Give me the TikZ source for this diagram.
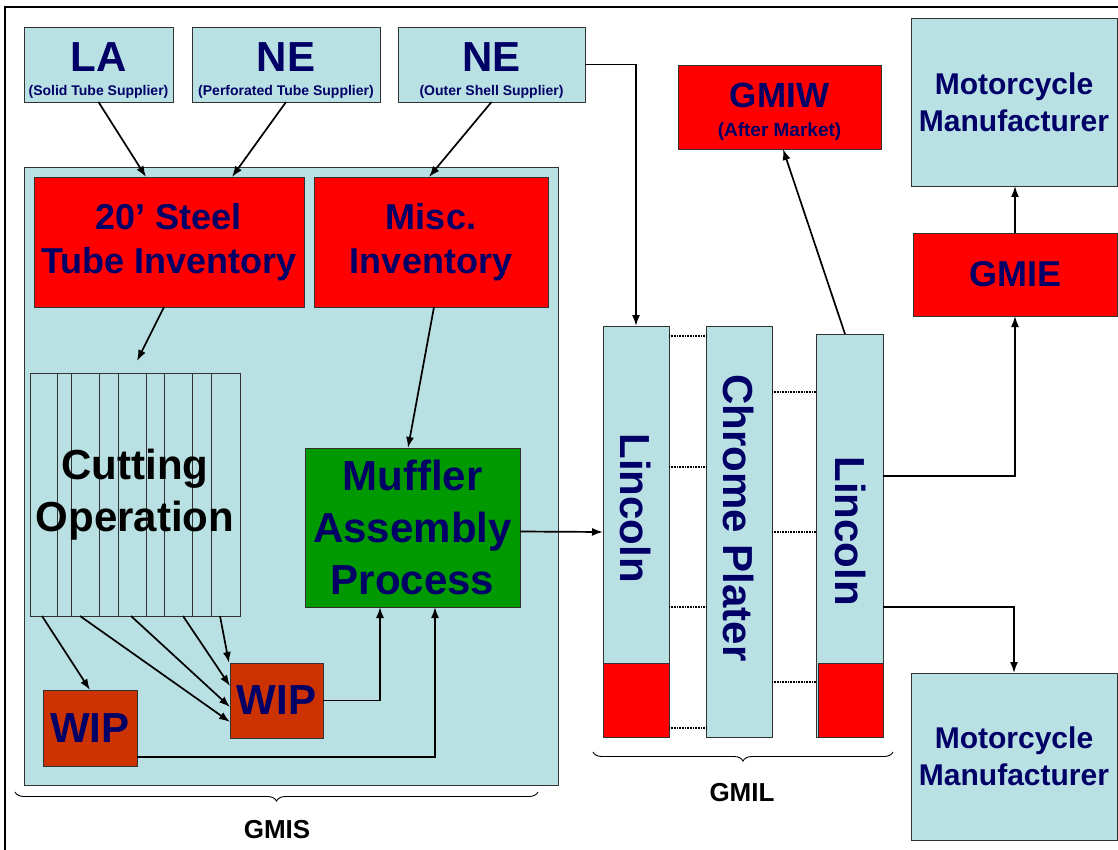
\documentclass[tikz,border=0pt]{standalone}
\usepackage{fontspec}
\setmainfont{Liberation Sans}
\usetikzlibrary{arrows.meta,decorations.pathreplacing,calc}
\definecolor{lb}{RGB}{185,224,227}
\definecolor{rd}{RGB}{255,0,0}
\definecolor{gr}{RGB}{0,153,0}
\definecolor{wipc}{RGB}{204,51,0}
\definecolor{navy}{RGB}{0,0,102}
\definecolor{edge}{RGB}{50,50,50}
\begin{document}
\begin{tikzpicture}[x=1pt,y=-1pt,
  box/.style={draw=edge, line width=0.9pt, inner sep=0pt, outer sep=0pt, anchor=north west, align=center, text=navy},
  txt/.style={inner sep=0pt, outer sep=0pt, align=center, text=navy},
  arr/.style={-{Latex[length=11pt,width=8pt]}, line width=1.7pt},
  link/.style={line width=1.6pt, dash pattern=on 1pt off 0.6pt},
  brc/.style={decorate, decoration={brace, mirror, amplitude=9pt}, line width=0.9pt},
  big/.style={font=\bfseries\fontsize{42}{52}\selectfont},
  mid/.style={font=\bfseries\fontsize{36}{44}\selectfont},
  sub/.style={font=\bfseries\fontsize{14}{14}\selectfont}]
\useasboundingbox[fill=white] (0,0) rectangle (1118,850);
\draw[line width=2.5pt] (4,7) -- (1118,7);
\draw[line width=2.5pt] (5,7) -- (5,850);

% suppliers
\node[box, fill=lb, minimum width=149pt, minimum height=75pt] (la) at (24,27) {};
\node[box, fill=lb, minimum width=188pt, minimum height=75pt] (ne2) at (192,27) {};
\node[box, fill=lb, minimum width=187pt, minimum height=75pt] (ne3) at (398,27) {};
\node[txt, big, anchor=base] (laT) at (98.5,72) {LA};
\node[txt, sub, anchor=base] (laS) at (98.5,96) {(Solid Tube Supplier)};
\node[txt, big, anchor=base] (ne2T) at (286,72) {NE};
\node[txt, sub, anchor=base] (ne2S) at (286,96) {(Perforated Tube Supplier)};
\node[txt, big, anchor=base] (ne3T) at (491.5,72) {NE};
\node[txt, sub, anchor=base] (ne3S) at (491.5,96) {(Outer Shell Supplier)};

% GMIS panel
\node[box, fill=lb, minimum width=534pt, minimum height=618pt] (gmis) at (24,167) {};
\node[box, fill=rd, mid, minimum width=270pt, minimum height=130pt] (steel) at (34,177) {20’ Steel\\Tube Inventory};
\node[box, fill=rd, mid, minimum width=234pt, minimum height=130pt] (misc) at (314,177) {Misc.\\Inventory};
\node[box, fill=lb, minimum width=210pt, minimum height=243pt] (cut) at (30,373) {};
\foreach \dx in {27.7,41.7,69.3,88,116,134.7,162.7,181.3}
  \draw[draw=edge, line width=0.9pt] ($(cut.north west)+(\dx,0)$) -- ($(cut.south west)+(\dx,0)$);
\node[txt, big, text=black] (cutT) at (cut.center) {Cutting\\Operation};
\node[box, fill=gr, big, minimum width=215pt, minimum height=159pt] (muf) at (305,448) {Muffler\\Assembly\\Process};
\node[box, fill=wipc, big, minimum width=94pt, minimum height=76pt] (wip1) at (43,690) {WIP};
\node[box, fill=wipc, big, minimum width=93pt, minimum height=75pt] (wip2) at (230,663) {WIP};

% GMIL columns
\node[box, fill=lb, minimum width=66pt, minimum height=411pt] (l1) at (603,326) {};
\node[box, fill=rd, minimum width=66pt, minimum height=74pt] (l1r) at (603,663) {};
\node[box, fill=lb, minimum width=66pt, minimum height=411pt] (cp) at (706,326) {};
\node[box, fill=lb, minimum width=67pt, minimum height=403pt] (l2) at (816,334) {};
\node[box, fill=rd, minimum width=65pt, minimum height=74pt] (l2r) at (818,663) {};
\node[txt, big, rotate=-90] (l1T) at (636,508) {Lincoln};
\node[txt, big, rotate=-90] (cpT) at (739,518) {Chrome Plater};
\node[txt, big, rotate=-90] (l2T) at (850,531) {Lincoln};
\foreach \yy in {10,141,281,402}
  \draw[link] ($(l1.north east)+(0,\yy)$) -- ($(cp.north west)+(0,\yy)$);
\foreach \yy in {66,206,356}
  \draw[link] ($(cp.north east)+(0,\yy)$) -- ($(l2.north west)+(0,\yy-8)$);

% right side
\node[box, fill=rd, minimum width=203pt, minimum height=84pt] (gmiw) at (678,65) {};
\node[txt, font=\bfseries\fontsize{35}{35}\selectfont, anchor=base] (gmiwT) at (779.5,108) {GMIW};
\node[txt, font=\bfseries\fontsize{19}{19}\selectfont, anchor=base] (gmiwS) at (779.5,137) {(After Market)};
\node[box, fill=lb, font=\bfseries\fontsize{30}{37}\selectfont, minimum width=206pt, minimum height=168pt] (moto1) at (911,18) {Motorcycle\\Manufacturer};
\node[box, fill=rd, mid, minimum width=204pt, minimum height=83pt] (gmie) at (913,233) {GMIE};
\node[box, fill=lb, font=\bfseries\fontsize{30}{37}\selectfont, minimum width=206pt, minimum height=167pt] (moto2) at (911,673) {Motorcycle\\Manufacturer};

% braces
\coordinate (bsl) at (15,792);
\coordinate (bsr) at (538,792);
\draw[brc] (bsl) -- (bsr);
\node[txt, text=black, font=\bfseries\fontsize{26}{26}\selectfont] (gmisT) at (277,830) {GMIS};
\coordinate (bll) at (593,752);
\coordinate (blr) at (893,752);
\draw[brc] (bll) -- (blr);
\node[txt, text=black, font=\bfseries\fontsize{26}{26}\selectfont] (gmilT) at (742,793) {GMIL};

% connectors
\draw[arr] (la.south) -- ($(steel.north west)+(112,0)$);
\draw[arr] (ne2.south) -- ($(steel.north west)+(198,0)$);
\draw[arr] (ne3.south) -- ($(misc.north west)+(115,0)$);
\draw[arr] ($(steel.south west)+(130,0)$) -- ($(cut.north west)+(107,-12)$);
\draw[arr] ($(misc.south west)+(120,0)$) -- ($(muf.north west)+(103,0)$);
\draw[arr] ($(cut.south west)+(12,0)$) -- ($(wip1.north west)+(47,0)$);
\draw[arr] ($(cut.south west)+(50,0)$) -- ($(wip2.north west)+(0,59)$);
\draw[arr] ($(cut.south west)+(101,0)$) -- ($(wip2.north west)+(0,44)$);
\draw[arr] ($(cut.south west)+(153,0)$) -- ($(wip2.north west)+(0,23)$);
\draw[arr] ($(cut.south west)+(190,0)$) -- ($(wip2.north west)+(-1,0)$);
\draw[arr] (wip2.east) -| ($(muf.south west)+(75,0)$);
\draw[arr] ($(wip1.south east)+(0,-9)$) -| ($(muf.south west)+(130,0)$);
\draw[arr] ($(muf.east)+(0,4)$) -- ($(l1.west)+(0,0.5)$);
\draw[arr] (ne3.east) -| (l1.north);
\draw[arr] ($(l2.north west)+(29,0)$) -- ($(gmiw.south west)+(105,0)$);
\draw[arr] ($(l2.north east)+(0,142)$) -| (gmie.south);
\draw[arr] ($(l2.north east)+(0,273)$) -| (moto2.north);
\draw[arr] (gmie.north) -- (gmie.north |- moto1.south);
\end{tikzpicture}
\end{document}
